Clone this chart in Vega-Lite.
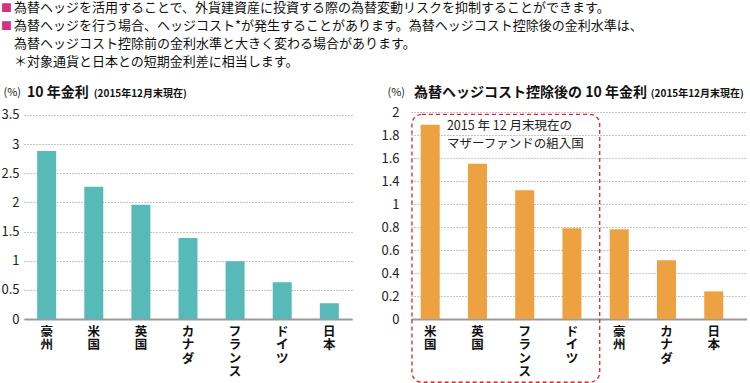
{
  "$schema": "https://vega.github.io/schema/vega-lite/v6.json",
  "padding": {"left": 0, "top": 2, "right": 0, "bottom": 0},
  "background": "white",
  "bounds": "flush",
  "spacing": 59,
  "config": {
    "font": "Noto Sans CJK JP",
    "view": {"stroke": null},
    "axisX": {
      "title": null,
      "labelAngle": 0,
      "labelExpr": "split(datum.label, '')",
      "labelFontSize": 12.5,
      "labelFontWeight": "bold",
      "labelLineHeight": 13.5,
      "labelBaseline": "top",
      "labelPadding": 6,
      "labelColor": "#111",
      "ticks": false,
      "grid": false,
      "domainColor": "#9a9a9a",
      "domainWidth": 2
    },
    "axisY": {
      "grid": true,
      "gridDash": [1, 2],
      "gridColor": "#8a8a8a",
      "domain": false,
      "ticks": false,
      "labelFontSize": 13,
      "labelColor": "#222",
      "labelOverlap": false,
      "format": "~g",
      "titleAngle": 0,
      "titleAlign": "left",
      "titleBaseline": "middle",
      "titleFontSize": 11,
      "titleFontWeight": "normal",
      "titleColor": "#222",
      "titleY": -20
    }
  },
  "title": {
    "text": [
      "\u200b\u3000為替ヘッジを活用することで、外貨建資産に投資する際の為替変動リスクを抑制することができます。",
      "\u200b\u3000為替ヘッジを行う場合、ヘッジコスト*が発生することがあります。為替ヘッジコスト控除後の金利水準は、",
      "\u200b\u3000為替ヘッジコスト控除前の金利水準と大きく変わる場合があります。",
      "\u200b\u3000＊対象通貨と日本との短期金利差に相当します。"
    ],
    "subtitle": ["■", "■"],
    "anchor": "start",
    "fontSize": 13,
    "fontWeight": "normal",
    "color": "#111",
    "lineHeight": 18,
    "subtitleFontSize": 11,
    "subtitleLineHeight": 18,
    "subtitleColor": "#d4317f",
    "subtitlePadding": -66,
    "offset": 17
  },
  "hconcat": [
    {
      "width": 328,
      "height": 207,
      "title": {
        "text": "10 年金利",
        "subtitle": "\u200b\u3000\u3000\u3000\u3000\u3000\u3000\u00a0\u00a0\u00a0(2015年12月末現在)",
        "anchor": "start",
        "frame": "group",
        "dx": 3,
        "fontSize": 14,
        "fontWeight": "bold",
        "color": "#111",
        "subtitleFontSize": 10,
        "subtitleFontWeight": "bold",
        "subtitleColor": "#111",
        "subtitlePadding": -11,
        "offset": -14
      },
      "data": {
        "values": [
          {"country": "豪州", "yield": 2.88},
          {"country": "米国", "yield": 2.27},
          {"country": "英国", "yield": 1.96},
          {"country": "カナダ", "yield": 1.39},
          {"country": "フランス", "yield": 0.99},
          {"country": "ドイツ", "yield": 0.63},
          {"country": "日本", "yield": 0.27}
        ]
      },
      "mark": {"type": "bar", "color": "#58b9b9"},
      "encoding": {
        "x": {
          "field": "country",
          "type": "nominal",
          "sort": null,
          "scale": {"paddingInner": 0.597, "paddingOuter": 0.28}
        },
        "y": {
          "field": "yield",
          "type": "quantitative",
          "scale": {"domain": [0, 3.55], "nice": false},
          "axis": {
            "values": [0, 0.5, 1, 1.5, 2, 2.5, 3, 3.5],
            "title": "(%)",
            "titleX": -21,
            "labelPadding": 5,
            "labelOverlap": false
          }
        }
      }
    },
    {
      "width": 336,
      "height": 207,
      "title": {
        "text": "為替ヘッジコスト控除後の 10 年金利",
        "subtitle": "\u200b\u3000\u3000\u3000\u3000\u3000\u3000\u3000\u3000\u3000\u3000\u3000\u3000\u3000\u3000\u3000\u3000\u3000\u3000\u3000\u3000\u3000\u3000\u3000\u00a0\u00a0\u00a0(2015年12月末現在)",
        "anchor": "start",
        "frame": "group",
        "dx": 3,
        "fontSize": 14,
        "fontWeight": "bold",
        "color": "#111",
        "subtitleFontSize": 10,
        "subtitleFontWeight": "bold",
        "subtitleColor": "#111",
        "subtitlePadding": -11,
        "offset": -14
      },
      "layer": [
        {
          "data": {
            "values": [
              {"country": "米国", "yield": 1.69},
              {"country": "英国", "yield": 1.35},
              {"country": "フランス", "yield": 1.12},
              {"country": "ドイツ", "yield": 0.79},
              {"country": "豪州", "yield": 0.78},
              {"country": "カナダ", "yield": 0.51},
              {"country": "日本", "yield": 0.24}
            ]
          },
          "mark": {"type": "bar", "color": "#eda140"},
          "encoding": {
            "x": {
              "field": "country",
              "type": "nominal",
              "scale": {
                "domain": ["米国", "英国", "フランス", "ドイツ", "豪州", "カナダ", "日本"],
                "paddingInner": 0.598,
                "paddingOuter": 0.354,
                "align": 0.29
              }
            },
            "y": {
              "field": "yield",
              "type": "quantitative",
              "scale": {"domain": [0, 1.8], "nice": false},
              "axis": {
                "values": [0, 0.2, 0.4, 0.6, 0.8, 1, 1.2, 1.4, 1.6, 1.8],
                "labelExpr": "datum.value > 1.1 ? format(datum.value + 0.2, '.2~f') : format(datum.value, '.2~f')",
                "title": "(%)",
                "titleX": -24,
                "labelPadding": 12,
                "labelOverlap": false
              }
            }
          }
        },
        {
          "data": {
            "values": [
              {"first": "米国", "last": "ドイツ", "note": ["2015 年 12 月末現在の", "マザーファンドの組入国"]}
            ]
          },
          "layer": [
            {
              "mark": {
                "type": "rect",
                "fill": null,
                "filled": false,
                "stroke": "#e8202a",
                "strokeWidth": 1.3,
                "strokeDash": [4, 3],
                "cornerRadius": 10
              },
              "encoding": {
                "x": {"field": "first", "type": "nominal", "bandPosition": -0.46},
                "x2": {"field": "last", "bandPosition": 1.96},
                "y": {
                  "datum": 1.78,
                  "type": "quantitative",
                  "axis": {
                    "values": [0, 0.2, 0.4, 0.6, 0.8, 1, 1.2, 1.4, 1.6, 1.8],
                    "labelExpr": "datum.value > 1.1 ? format(datum.value + 0.2, '.2~f') : format(datum.value, '.2~f')",
                    "title": "(%)",
                    "titleX": -24,
                    "labelPadding": 12,
                    "labelOverlap": false
                  }
                },
                "y2": {"datum": -0.55}
              }
            },
            {
              "mark": {
                "type": "text",
                "align": "left",
                "baseline": "top",
                "fontSize": 12.5,
                "lineHeight": 18,
                "color": "#222"
              },
              "encoding": {
                "x": {"field": "first", "type": "nominal", "bandPosition": 1.38},
                "y": {
                  "datum": 1.73,
                  "type": "quantitative",
                  "axis": {
                    "values": [0, 0.2, 0.4, 0.6, 0.8, 1, 1.2, 1.4, 1.6, 1.8],
                    "labelExpr": "datum.value > 1.1 ? format(datum.value + 0.2, '.2~f') : format(datum.value, '.2~f')",
                    "title": "(%)",
                    "titleX": -24,
                    "labelPadding": 12,
                    "labelOverlap": false
                  }
                },
                "text": {"field": "note"}
              }
            }
          ]
        }
      ]
    }
  ]
}
